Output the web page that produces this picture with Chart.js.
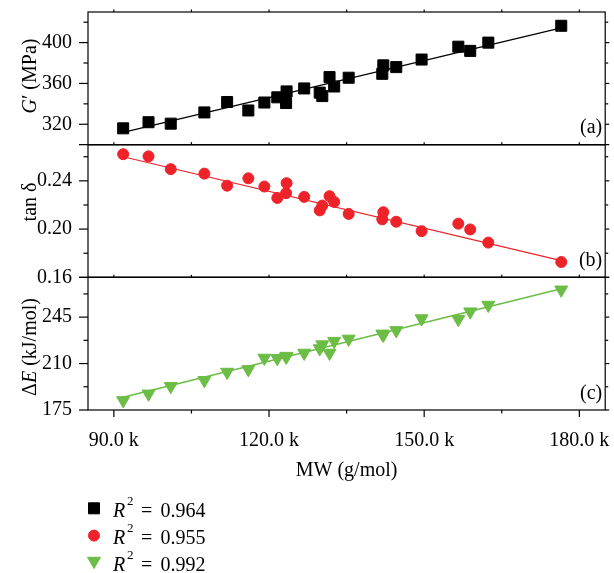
<!DOCTYPE html>
<html>
<head>
<meta charset="utf-8">
<script src="https://cdn.jsdelivr.net/npm/chart.js@4.4.1/dist/chart.umd.min.js"></script>
<style>
  html, body { margin: 0; padding: 0; background: #fff; }
  #wrap { width: 614px; height: 573px; }
</style>
</head>
<body>
<div id="wrap"><canvas id="myChart" width="614" height="573"></canvas></div>
<script>
// Molecular weight of each sample (g/mol)
let mw = [91800, 96700, 101000, 107500, 111900, 116000, 119100, 121600, 123300, 123400, 126800, 129800,
          130300, 131700, 132600, 135400, 141900, 142100, 144600, 149500, 156600, 158900, 162400, 176500];
// Storage modulus G' (MPa)
let gPrime = [316.0, 322.0, 320.6, 331.6, 341.8, 333.5, 341.3, 346.4, 340.8, 352.2, 355.1, 351.0,
              347.6, 366.2, 357.0, 365.6, 369.4, 377.7, 376.0, 383.4, 396.0, 391.9, 400.0, 416.5];
// Loss factor tan delta
let tanDelta = [0.2621, 0.2603, 0.2497, 0.2460, 0.2360, 0.2421, 0.2353, 0.2258, 0.2298, 0.2381, 0.2267, 0.2155,
                0.2195, 0.2273, 0.2225, 0.2126, 0.2081, 0.2140, 0.2061, 0.1983, 0.2045, 0.1997, 0.1888, 0.1727];
// Activation energy (kJ/mol)
let deltaE = [182.2, 187.2, 192.9, 197.4, 203.6, 205.6, 214.2, 214.0, 215.0, 215.6, 218.0, 221.3,
              224.3, 218.0, 226.9, 228.6, 232.4, 231.6, 235.0, 243.9, 243.4, 249.1, 254.1, 265.6];

// Linear fits, from first to last sample
let fitX = [91800, 176500];
let fitG = [312.1, 414.5];
let fitTan = [0.2600, 0.1738];
let fitE = [184.6, 266.4];

// R^2 of each fit (legend)
let r2 = ['0.964', '0.955', '0.992'];

// Tick values
let xMajor = [90000, 120000, 150000, 180000];
let xMinor = [105000, 135000, 165000];
let gMajor = [320, 360, 400];
let gMinor = [340, 380, 420];
let tanMajor = [0.16, 0.20, 0.24];
let tanMinor = [0.18, 0.22, 0.26];
let eMajor = [175, 210, 245];
let eMinor = [192.5, 227.5, 262.5];

const black = '#000000';
const red = '#ee2229';
const green = '#6bbd45';
const serif = '"Liberation Serif", "DejaVu Serif", serif';

function pts(xs, ys) {
    return xs.map((x, i) => ({x: x, y: ys[i]}));
}

function yScale(min, max, major, fmt) {
    return {
        type: 'linear',
        min: min,
        max: max,
        position: 'left',
        stack: 'panels',
        stackWeight: 1,
        afterBuildTicks: s => { s.ticks = major.map(v => ({value: v})); },
        afterFit: s => { s.width = 88; s.paddingTop = 0; s.paddingBottom = 0; },
        grid: { display: false, drawTicks: false },
        border: { display: false },
        ticks: { padding: 16, color: black, font: { family: serif, size: 20 }, autoSkip: false, callback: fmt }
    };
}

// panel boxes, letters and y titles (title parts: [text, italic])
const panels = [
    { id: 'ya', major: gMajor, minor: gMinor, letter: '(a)', titleY: 76,
      title: [['G', true], ['\u2032 (MPa)', false]] },
    { id: 'yb', major: tanMajor, minor: tanMinor, letter: '(b)', titleY: 202,
      title: [['tan \u03b4', false]] },
    { id: 'yc', major: eMajor, minor: eMinor, letter: '(c)', titleY: 347,
      title: [['\u0394', false], ['E', true], [' (kJ/mol)', false]] }
];

function font(size, italic) {
    return (italic ? 'italic ' : '') + size + 'px ' + serif;
}

function line(ctx, x1, y1, x2, y2) {
    ctx.beginPath();
    ctx.moveTo(x1, y1);
    ctx.lineTo(x2, y2);
    ctx.stroke();
}

const decorations = {
    id: 'decorations',
    afterDraw(chart) {
        const ctx = chart.ctx;
        const area = chart.chartArea;
        const xs = chart.scales.x;
        ctx.save();
        ctx.strokeStyle = black;
        ctx.fillStyle = black;
        ctx.lineWidth = 1.2;

        panels.forEach((p, k) => {
            const s = chart.scales[p.id];
            ctx.strokeRect(area.left, s.top, area.right - area.left, s.bottom - s.top);
            p.major.forEach(v => {
                const y = s.getPixelForValue(v);
                line(ctx, area.left - 9, y, area.left, y);
                line(ctx, area.right, y, area.right + 4, y);
            });
            p.minor.forEach(v => {
                const y = s.getPixelForValue(v);
                line(ctx, area.left - 4.5, y, area.left, y);
                line(ctx, area.right, y, area.right + 3, y);
            });
            if (k < panels.length - 1) {
                line(ctx, area.left - 9, s.bottom, area.right + 4, s.bottom);
            }
            xMajor.concat(xMinor).forEach(v => {
                const x = xs.getPixelForValue(v);
                line(ctx, x, s.top, x, s.top - 2.5);
            });

            // panel letter
            ctx.font = font(20, false);
            ctx.textAlign = 'right';
            ctx.textBaseline = 'alphabetic';
            ctx.fillText(p.letter, area.right - 3, s.bottom - 11.5);

            // rotated y title
            ctx.save();
            ctx.translate(31, p.titleY);
            ctx.rotate(-Math.PI / 2);
            ctx.textBaseline = 'middle';
            ctx.textAlign = 'left';
            let w = 0;
            p.title.forEach(t => { ctx.font = font(20, t[1]); w += ctx.measureText(t[0]).width; });
            let x = -w / 2;
            p.title.forEach(t => {
                ctx.font = font(20, t[1]);
                ctx.fillText(t[0], x, 0);
                x += ctx.measureText(t[0]).width;
            });
            ctx.restore();
        });

        // x ticks along the bottom
        xMajor.forEach(v => {
            const x = xs.getPixelForValue(v);
            line(ctx, x, area.bottom, x, area.bottom + 7);
        });
        xMinor.forEach(v => {
            const x = xs.getPixelForValue(v);
            line(ctx, x, area.bottom, x, area.bottom + 3.5);
        });

        // legend
        const styles = [
            { pointStyle: 'rect', radius: 7.8, rotation: 0, color: black },
            { pointStyle: 'circle', radius: 5.5, rotation: 0, color: red },
            { pointStyle: 'triangle', radius: 7.5, rotation: 180, color: green }
        ];
        styles.forEach((st, i) => {
            const cy = 508.3 + i * 27.3;
            ctx.fillStyle = st.color;
            ctx.strokeStyle = st.color;
            ctx.lineWidth = 1;
            const my = st.pointStyle === 'triangle' ? cy - 1.9 : cy;
            Chart.helpers.drawPoint(ctx, { pointStyle: st.pointStyle, radius: st.radius, rotation: st.rotation, borderWidth: 1 }, 94, my);
            const base = cy + 8.4;
            ctx.fillStyle = black;
            ctx.textAlign = 'left';
            ctx.textBaseline = 'alphabetic';
            ctx.font = font(20, true);
            ctx.fillText('R', 113, base);
            ctx.font = font(13, false);
            ctx.fillText('2', 127, base - 12);
            ctx.font = font(20, false);
            ctx.fillText('=', 141, base);
            ctx.fillText(r2[i], 160.5, base);
        });
        ctx.restore();
    }
};

function scatterSet(data, axis, color, style, radius, rotation) {
    return {
        data: pts(mw, data),
        yAxisID: axis,
        backgroundColor: color,
        borderColor: color,
        borderWidth: 1,
        pointStyle: style,
        pointRadius: radius,
        pointRotation: rotation,
        showLine: false,
        order: 1
    };
}

function fitSet(data, axis, color, width) {
    return {
        data: pts(fitX, data),
        yAxisID: axis,
        borderColor: color,
        borderWidth: width,
        pointRadius: 0,
        showLine: true,
        order: 2
    };
}

let ctx = document.getElementById('myChart').getContext('2d');
let myChart = new Chart(ctx, {
    type: 'scatter',
    data: {
        datasets: [
            scatterSet(gPrime, 'ya', black, 'rect', 7.8, 0),
            scatterSet(tanDelta, 'yb', red, 'circle', 5.5, 0),
            scatterSet(deltaE, 'yc', green, 'triangle', 7.5, 180),
            fitSet(fitG, 'ya', black, 1.3),
            fitSet(fitTan, 'yb', red, 1.2),
            fitSet(fitE, 'yc', green, 1.4)
        ]
    },
    options: {
        responsive: false,
        animation: false,
        devicePixelRatio: 1,
        events: [],
        layout: { padding: { top: 12, right: 6, left: 0, bottom: 0 } },
        plugins: { legend: { display: false }, tooltip: { enabled: false } },
        scales: {
            x: {
                type: 'linear',
                min: 85000,
                max: 185000,
                afterBuildTicks: s => { s.ticks = xMajor.map(v => ({value: v})); },
                afterFit: s => { s.height = 163; s.paddingLeft = 0; s.paddingRight = 0; },
                grid: { display: false, drawTicks: false },
                border: { display: false },
                ticks: {
                    padding: 19, color: black, font: { family: serif, size: 20 }, maxRotation: 0, autoSkip: false,
                    callback: v => (v / 1000).toFixed(1) + ' k'
                },
                title: {
                    display: true, text: 'MW (g/mol)', color: black,
                    font: { family: serif, size: 20 }, padding: { top: 0, bottom: 90 }
                }
            },
            // listed bottom to top: the last one in the stack is drawn on top
            yc: yScale(175, 275, eMajor, v => String(v)),
            yb: yScale(0.16, 0.27, tanMajor, v => v.toFixed(2)),
            ya: yScale(300, 430, gMajor, v => String(v))
        }
    },
    plugins: [decorations]
});
</script>
</body>
</html>
